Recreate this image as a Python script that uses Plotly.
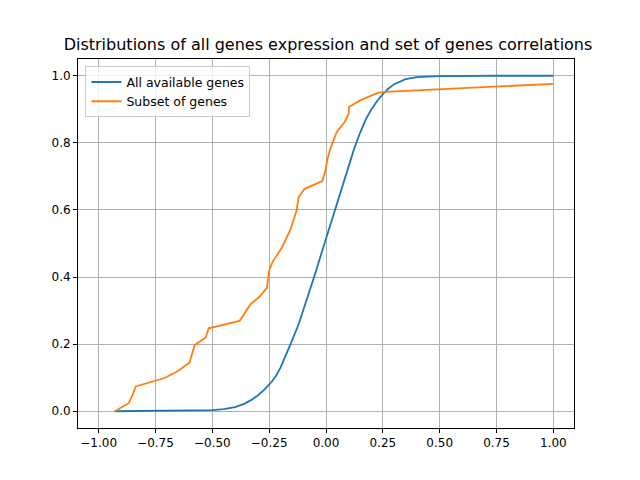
import plotly.graph_objects as go

all_x = [-0.93, -0.6, -0.5, -0.45, -0.4, -0.36, -0.33, -0.3, -0.27, -0.24, -0.22, -0.2, -0.18, -0.15,
         -0.12, -0.1, -0.075, -0.05, -0.025, 0.0, 0.025, 0.05, 0.075, 0.1, 0.125, 0.15, 0.175, 0.2,
         0.225, 0.25, 0.275, 0.3, 0.35, 0.4, 0.45, 0.5, 0.75, 1.0]
all_y = [0.0, 0.001, 0.003, 0.006, 0.012, 0.022, 0.033, 0.047, 0.065, 0.087, 0.105, 0.13, 0.16, 0.21,
         0.26, 0.30, 0.35, 0.405, 0.46, 0.515, 0.57, 0.625, 0.68, 0.735, 0.785, 0.83, 0.87, 0.9,
         0.925, 0.945, 0.962, 0.975, 0.99, 0.996, 0.998, 0.999, 1.0, 1.0]

sub_x = [-0.929, -0.868, -0.851, -0.837, -0.710, -0.653, -0.600, -0.578, -0.529, -0.516, -0.380,
         -0.332, -0.292, -0.260, -0.250, -0.236, -0.193, -0.158, -0.130, -0.120, -0.094, -0.016,
         -0.002, 0.005, 0.019, 0.048, 0.083, 0.100, 0.101, 0.154, 0.231, 0.26, 1.0]
sub_y = [0.0, 0.024, 0.048, 0.074, 0.099, 0.119, 0.145, 0.197, 0.220, 0.247, 0.269,
         0.319, 0.342, 0.368, 0.419, 0.444, 0.489, 0.539, 0.597, 0.638, 0.663, 0.686,
         0.718, 0.748, 0.783, 0.833, 0.863, 0.887, 0.907, 0.928, 0.950, 0.952, 0.976]

x_ticks = [-1.0, -0.75, -0.5, -0.25, 0.0, 0.25, 0.5, 0.75, 1.0]
y_ticks = [0.0, 0.2, 0.4, 0.6, 0.8, 1.0]

fig = go.Figure()
fig.add_trace(go.Scatter(x=all_x, y=all_y, mode="lines", name="All available genes",
                         line=dict(color="#1f77b4", width=1.8)))
fig.add_trace(go.Scatter(x=sub_x, y=sub_y, mode="lines", name="Subset of genes",
                         line=dict(color="#ff7f0e", width=1.8)))

axis = dict(showline=True, linecolor="black", linewidth=1, mirror=True, ticks="outside",
            ticklen=4, tickcolor="black", showgrid=True, gridcolor="#b0b0b0", gridwidth=1,
            zeroline=False, tickfont=dict(size=12, color="black"))
fig.update_xaxes(range=[-1.0909, 1.0909], tickvals=x_ticks,
                 ticktext=[f"{v:.2f}".replace("-", "−") for v in x_ticks], **axis)
fig.update_yaxes(range=[-0.05, 1.05], tickvals=y_ticks,
                 ticktext=[f"{v:.1f}" for v in y_ticks], **axis)
fig.update_layout(
    width=640, height=480, plot_bgcolor="white", paper_bgcolor="white",
    font=dict(family="DejaVu Sans", color="black"),
    title=dict(text="Distributions of all genes expression and set of genes correlations",
               x=0.5, xanchor="center", y=0.925, yanchor="middle", font=dict(size=16)),
    margin=dict(l=70, r=74, t=51, b=60),
    showlegend=True,
    legend=dict(x=0.015, y=0.98, xanchor="left", yanchor="top", bgcolor="rgba(255,255,255,0.8)",
                bordercolor="#cccccc", borderwidth=1, font=dict(size=12.5)),
)
fig.write_html("out.html")
